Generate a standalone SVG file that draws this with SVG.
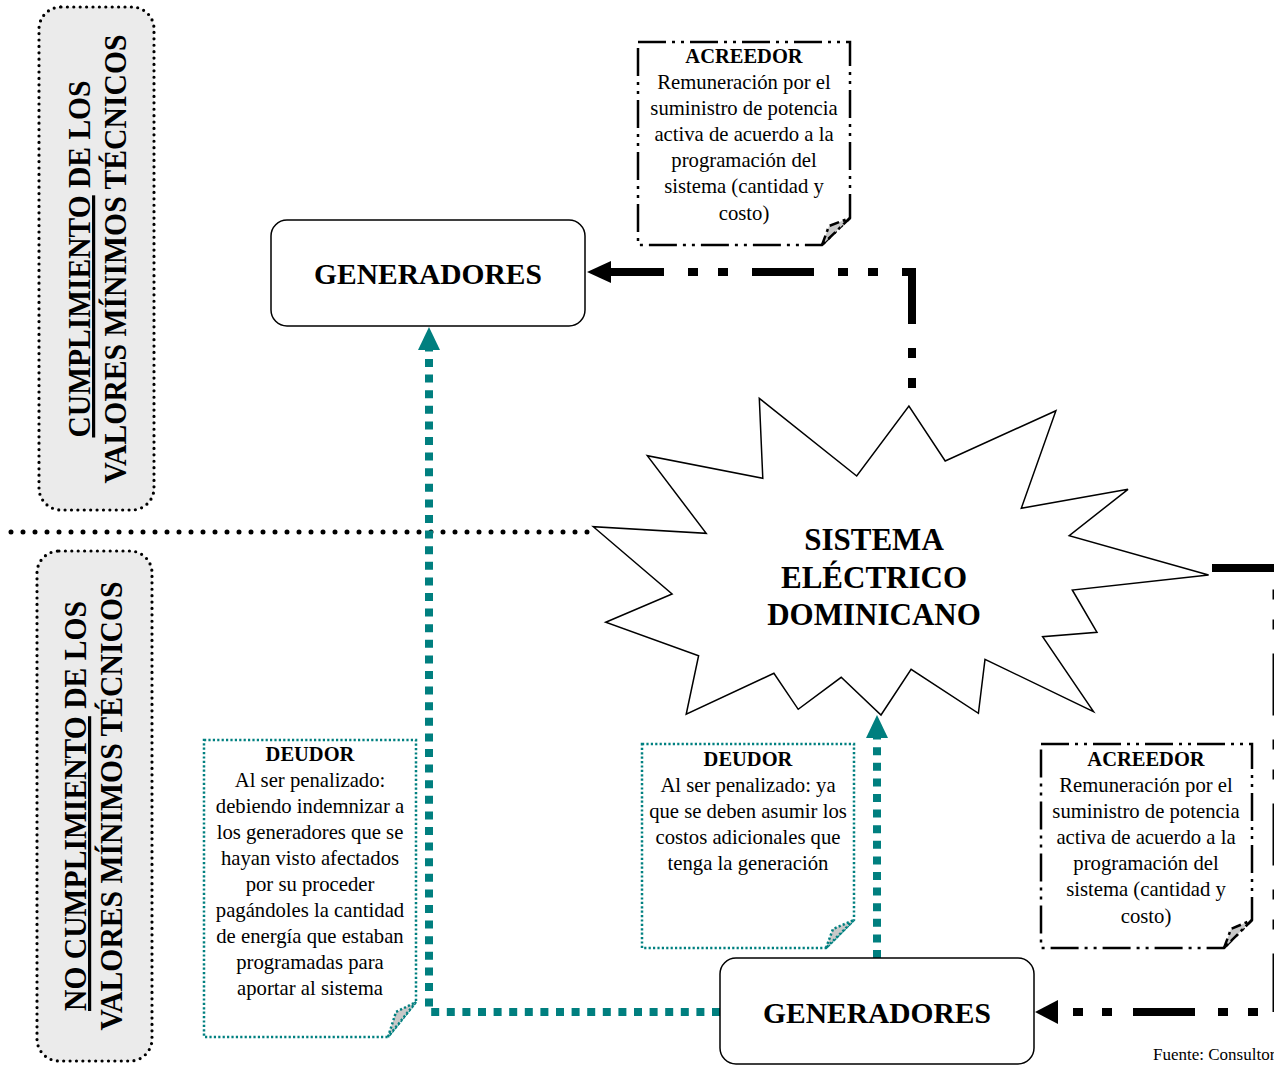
<svg xmlns="http://www.w3.org/2000/svg" width="1274" height="1065" viewBox="0 0 1274 1065">
<style>
text{font-family:"Liberation Serif","Times New Roman",serif;fill:#000}
.side{fill:#ebebeb;stroke:#000;stroke-width:3.2;stroke-dasharray:0 6.4;stroke-linecap:round}
.vt{font-size:32px;font-weight:bold;text-anchor:middle}
.box{fill:#fff;stroke:#000;stroke-width:1.5}
.gen{font-size:29.5px;font-weight:bold;text-anchor:middle}
.acr{fill:#fff;stroke:#000;stroke-width:2.5;stroke-dasharray:28 6 3 6 3 6}
.deu{fill:#fff;stroke:#008080;stroke-width:2.5;stroke-dasharray:2.2 2.2}
.flapA{fill:#c8c8c8;stroke:#000;stroke-width:2.5;stroke-dasharray:10 4 3 4}
.flapD{fill:#c8c8c8;stroke:#008080;stroke-width:2.5;stroke-dasharray:2.2 2.2}
.nt{font-size:20.7px;text-anchor:middle}
.nh{font-size:20.5px;font-weight:bold;text-anchor:middle}
.blk{fill:none;stroke:#000;stroke-width:8;stroke-linejoin:miter}
.teal{fill:none;stroke:#007f7f;stroke-width:8;stroke-dasharray:8 7.6}
</style>

<g id="panel-cumplimiento">
<rect class="side" x="39" y="7" width="115" height="503" rx="22"/>
<text class="vt" transform="translate(90,259) rotate(-90)" textLength="357" lengthAdjust="spacingAndGlyphs"><tspan text-decoration="underline">CUMPLIMIENTO</tspan> DE LOS</text>
<text class="vt" transform="translate(126,259) rotate(-90)" textLength="449" lengthAdjust="spacingAndGlyphs">VALORES MÍNIMOS TÉCNICOS</text>
</g>

<g id="panel-no-cumplimiento">
<rect class="side" x="37" y="551" width="115" height="510" rx="22"/>
<text class="vt" transform="translate(86,806) rotate(-90)" textLength="410" lengthAdjust="spacingAndGlyphs"><tspan text-decoration="underline">NO CUMPLIMIENTO</tspan> DE LOS</text>
<text class="vt" transform="translate(122,806) rotate(-90)" textLength="449" lengthAdjust="spacingAndGlyphs">VALORES MÍNIMOS TÉCNICOS</text>
</g>

<g id="divider">
<line x1="11" y1="532" x2="595" y2="532" stroke="#000" stroke-width="5" stroke-dasharray="0 12" stroke-linecap="round"/>
</g>

<g id="connectors">
<path class="blk" d="M912,388 V272 H604" stroke-dasharray="10 20 10 24 62 24"/>
<polygon points="587,272 611,261 611,283" fill="#000"/>
<path class="blk" d="M1212,568 H1276.5 V1012" stroke-dasharray="62 24 10 20 10 24"/>
<path class="blk" d="M1274,1012 H1057" stroke-dasharray="0 16 10 20 10 23 62 21 10 19 10 100"/>
<polygon points="1035,1012 1058,1000 1058,1024" fill="#000"/>
<path class="teal" d="M720,1012 H429 V350"/>
<polygon points="429,327 418,350 440,350" fill="#007f7f"/>
<path class="teal" d="M877,958 V738"/>
<polygon points="877,715 866,738 888,738" fill="#007f7f"/>
</g>

<g id="generadores-top">
<rect class="box" x="271" y="220" width="314" height="106" rx="16"/>
<text class="gen" x="428" y="284">GENERADORES</text>
</g>

<g id="generadores-bottom">
<rect class="box" x="720" y="958" width="314" height="106" rx="16"/>
<text class="gen" x="877" y="1023">GENERADORES</text>
</g>

<g id="sistema">
<polygon fill="#fff" stroke="#000" stroke-width="1.5" points="759.3,398.3 856.7,476 908.9,406 945.2,461 1055.9,410.7 1021.3,508.3 1128,489.3 1069.2,535.7 1208.6,575 1072.3,590 1097,632.3 1042.6,636.7 1093.5,711.7 985,659.3 978.4,713.3 911.1,669.3 881,715 841.2,677.3 798.2,709.3 773.9,673.3 686.2,714.3 698.6,655.7 605.7,622.3 672.1,594 593.3,526.7 706.2,533.3 647.3,455.7 762.8,478.3"/>
<text class="gen" style="font-size:31px" x="874" y="550">SISTEMA</text>
<text class="gen" style="font-size:31px" x="874" y="588">ELÉCTRICO</text>
<text class="gen" style="font-size:31px" x="874" y="625">DOMINICANO</text>
</g>

<g id="acreedor-top">
<path class="acr" d="M638,42 H850 V218 L822,245 H638 Z"/>
<path class="flapA" d="M822,245 L829,226 L850,218 Z"/>
<text class="nh" x="744" y="63">ACREEDOR</text>
<text class="nt" x="744" y="89">Remuneración por el</text>
<text class="nt" x="744" y="115">suministro de potencia</text>
<text class="nt" x="744" y="141">activa de acuerdo a la</text>
<text class="nt" x="744" y="167">programación del</text>
<text class="nt" x="744" y="193">sistema (cantidad y</text>
<text class="nt" x="744" y="220">costo)</text>
</g>

<g id="acreedor-bottom">
<path class="acr" d="M1041,744 H1252 V920 L1224,948 H1041 Z"/>
<path class="flapA" d="M1224,948 L1231,929 L1252,920 Z"/>
<text class="nh" x="1146" y="766">ACREEDOR</text>
<text class="nt" x="1146" y="792">Remuneración por el</text>
<text class="nt" x="1146" y="818">suministro de potencia</text>
<text class="nt" x="1146" y="844">activa de acuerdo a la</text>
<text class="nt" x="1146" y="870">programación del</text>
<text class="nt" x="1146" y="896">sistema (cantidad y</text>
<text class="nt" x="1146" y="923">costo)</text>
</g>

<g id="deudor-left">
<path class="deu" d="M204,740 H416 V1002 L388,1037 H204 Z"/>
<path class="flapD" d="M388,1037 L396,1012 L416,1002 Z"/>
<text class="nh" x="310" y="761">DEUDOR</text>
<text class="nt" x="310" y="787">Al ser penalizado:</text>
<text class="nt" x="310" y="813">debiendo indemnizar a</text>
<text class="nt" x="310" y="839">los generadores que se</text>
<text class="nt" x="310" y="865">hayan visto afectados</text>
<text class="nt" x="310" y="891">por su proceder</text>
<text class="nt" x="310" y="917">pagándoles la cantidad</text>
<text class="nt" x="310" y="943">de energía que estaban</text>
<text class="nt" x="310" y="969">programadas para</text>
<text class="nt" x="310" y="995">aportar al sistema</text>
</g>

<g id="deudor-middle">
<path class="deu" d="M642,744 H854 V920 L826,948 H642 Z"/>
<path class="flapD" d="M826,948 L833,929 L854,920 Z"/>
<text class="nh" x="748" y="766">DEUDOR</text>
<text class="nt" x="748" y="792">Al ser penalizado: ya</text>
<text class="nt" x="748" y="818">que se deben asumir los</text>
<text class="nt" x="748" y="844">costos adicionales que</text>
<text class="nt" x="748" y="870">tenga la generación</text>
</g>

<text x="1153" y="1060" style="font-size:17px">Fuente: Consultor</text>
</svg>
